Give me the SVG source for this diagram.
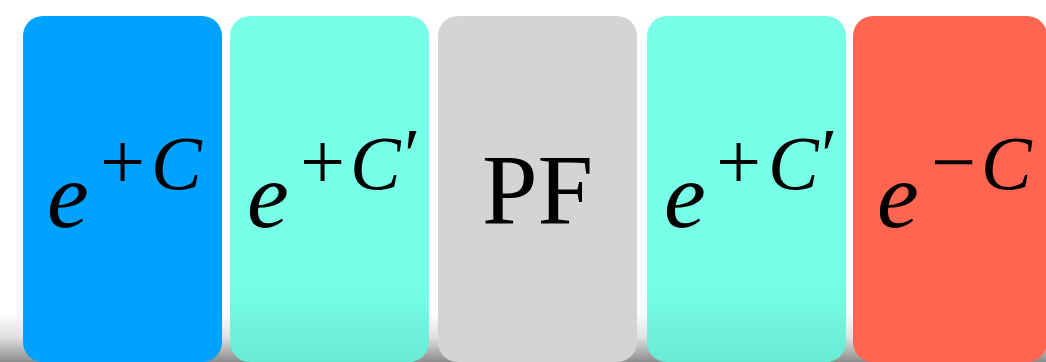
<svg xmlns="http://www.w3.org/2000/svg" width="1046" height="362" viewBox="0 0 1046 362">
<defs>
<linearGradient id="shadow" x1="0" y1="0" x2="0" y2="1">
<stop offset="0" stop-color="#000" stop-opacity="0"/>
<stop offset="0.5" stop-color="#000" stop-opacity="0.12"/>
<stop offset="1" stop-color="#000" stop-opacity="0.45"/>
</linearGradient>
<linearGradient id="inner" x1="0" y1="0" x2="0" y2="1">
<stop offset="0" stop-color="#00503c" stop-opacity="0"/>
<stop offset="1" stop-color="#00503c" stop-opacity="0.12"/>
</linearGradient>
<style>
.t{fill:#000;font-family:'Liberation Serif','Times New Roman',serif}
.base{font-size:94px;font-style:italic}
.op{font-size:80px;font-style:normal}
.sup{font-size:76px;font-style:italic}
.pr{font-size:74px;font-style:normal}
</style>
</defs>
<rect x="0" y="312" width="1046" height="50" fill="url(#shadow)"/>
<g id="node1">
<rect x="23" y="16" width="199" height="346" rx="20" fill="#00a2ff"/>
<text class="t" y="227"><tspan class="base" x="47">e</tspan><tspan class="op" x="100" y="189">+</tspan><tspan class="sup" x="151">C</tspan></text>
</g>
<g id="node2">
<rect x="230" y="16" width="199" height="346" rx="20" fill="#78ffe8"/>
<rect x="230" y="280" width="199" height="82" rx="20" fill="url(#inner)"/>
<text class="t" y="227"><tspan class="base" x="247">e</tspan><tspan class="op" x="300" y="189">+</tspan><tspan class="sup" x="350">C</tspan><tspan class="pr" x="404" y="180">′</tspan></text>
</g>
<g id="node3">
<rect x="438" y="16" width="199" height="346" rx="20" fill="#d4d4d4"/>
<text class="t" x="537.5" y="223" text-anchor="middle" font-size="100">PF</text>
</g>
<g id="node4">
<rect x="647" y="16" width="199" height="346" rx="20" fill="#78ffe8"/>
<rect x="647" y="280" width="199" height="82" rx="20" fill="url(#inner)"/>
<text class="t" y="227"><tspan class="base" x="664">e</tspan><tspan class="op" x="716" y="189">+</tspan><tspan class="sup" x="768">C</tspan><tspan class="pr" x="821" y="180">′</tspan></text>
</g>
<g id="node5">
<rect x="853" y="16" width="194" height="346" rx="20" fill="#ff6550"/>
<text class="t" y="227"><tspan class="base" x="877">e</tspan><tspan class="op" x="931" y="189">−</tspan><tspan class="sup" x="981">C</tspan></text>
</g>
<g id="connectors"/>
</svg>
